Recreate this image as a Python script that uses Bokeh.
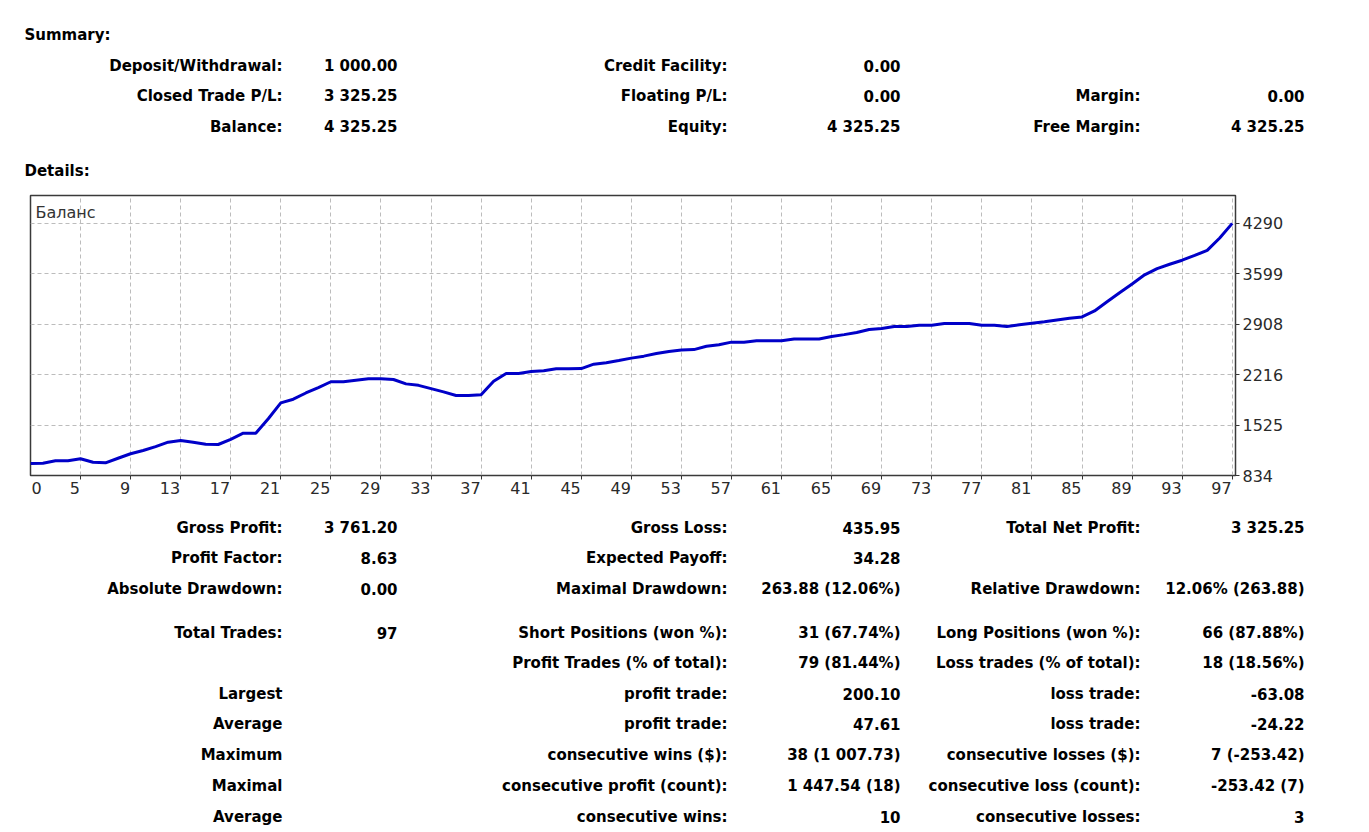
from bokeh.plotting import figure
from bokeh.models import Range1d, FixedTicker, LinearAxis, Label
from bokeh.layouts import column
from bokeh.embed import file_html
from bokeh.resources import INLINE
from bokeh.core.properties import value

# ---------------- data ----------------
trade_no = list(range(1, 98))
balance = [
    1000, 1003, 1035, 1035, 1063, 1015, 1008, 1070, 1132, 1177,
    1230, 1291, 1314, 1290, 1262, 1259, 1330, 1414, 1414, 1612,
    1830, 1880, 1965, 2040, 2119, 2119, 2140, 2160, 2160, 2150,
    2090, 2070, 2025, 1980, 1931, 1931, 1940, 2127, 2233, 2233,
    2260, 2270, 2297, 2297, 2300, 2360, 2380, 2410, 2443, 2470,
    2505, 2535, 2553, 2560, 2605, 2625, 2662, 2662, 2681, 2681,
    2681, 2704, 2704, 2704, 2740, 2765, 2795, 2835, 2850, 2877,
    2877, 2895, 2895, 2918, 2918, 2918, 2895, 2895, 2877, 2900,
    2920, 2940, 2965, 2990, 3008, 3090, 3215, 3340, 3460, 3585,
    3670, 3730, 3785, 3850, 3920, 4090, 4290,
]
x_tick_values = [5, 9, 13, 17, 21, 25, 29, 33, 37, 41, 45, 49, 53, 57, 61,
                 65, 69, 73, 77, 81, 85, 89, 93, 97]
x_first_label = "0"
y_tick_values = [834, 1525.2, 2216.4, 2907.6, 3598.8, 4290]
y_tick_labels = ["834", "1525", "2216", "2908", "3599", "4290"]
chart_title = "Баланс"

summary_header = "Summary:"
details_header = "Details:"
summary_col1_labels = ["Deposit/Withdrawal:", "Closed Trade P/L:", "Balance:"]
summary_col1_values = ["1 000.00", "3 325.25", "4 325.25"]
summary_col2_labels = ["Credit Facility:", "Floating P/L:", "Equity:"]
summary_col2_values = ["0.00", "0.00", "4 325.25"]
summary_col3_labels = ["", "Margin:", "Free Margin:"]
summary_col3_values = ["", "0.00", "4 325.25"]

details_col1_labels = ["Gross Profit:", "Profit Factor:", "Absolute Drawdown:", "Total Trades:", "",
                       "Largest", "Average", "Maximum", "Maximal", "Average"]
details_col1_values = ["3 761.20", "8.63", "0.00", "97", "", "", "", "", "", ""]
details_col2_labels = ["Gross Loss:", "Expected Payoff:", "Maximal Drawdown:", "Short Positions (won %):",
                       "Profit Trades (% of total):", "profit trade:", "profit trade:",
                       "consecutive wins ($):", "consecutive profit (count):", "consecutive wins:"]
details_col2_values = ["435.95", "34.28", "263.88 (12.06%)", "31 (67.74%)", "79 (81.44%)", "200.10",
                       "47.61", "38 (1 007.73)", "1 447.54 (18)", "10"]
details_col3_labels = ["Total Net Profit:", "", "Relative Drawdown:", "Long Positions (won %):",
                       "Loss trades (% of total):", "loss trade:", "loss trade:",
                       "consecutive losses ($):", "consecutive loss (count):", "consecutive losses:"]
details_col3_values = ["3 325.25", "", "12.06% (263.88)", "66 (87.88%)", "18 (18.56%)", "-63.08",
                       "-24.22", "7 (-253.42)", "-253.42 (7)", "3"]

# ---------------- layout constants ----------------
W = 1369
TOP_H = 185
CHART_H = 320
BOT_H = 832 - TOP_H - CHART_H
FONT = "DejaVu Sans"
TXT_COLOR = "#000000"


def text_fig(h):
    f = figure(width=W, height=h, x_range=Range1d(0, W), y_range=Range1d(h, 0),
               output_backend="svg", toolbar_location=None,
               x_axis_location=None, y_axis_location=None,
               min_border=0, min_border_left=0, min_border_right=0,
               min_border_top=0, min_border_bottom=0, frame_align=False)
    f.xgrid.visible = False
    f.ygrid.visible = False
    f.outline_line_color = None
    f.background_fill_color = "white"
    f.border_fill_color = "white"
    return f


def add_texts(f, x, ys, texts, align):
    xs, yy, tt = [], [], []
    for y, t in zip(ys, texts):
        if t:
            xs.append(x)
            yy.append(y)
            tt.append(t)
    f.text(x=xs, y=yy, text=tt, text_align=align, text_baseline="middle",
           text_font=value(FONT), text_font_style="bold", text_font_size="15px",
           text_color=TXT_COLOR)


# ---------------- top text ----------------
top = text_fig(TOP_H)
add_texts(top, 24, [34], [summary_header], "left")
add_texts(top, 24, [170], [details_header], "left")
srow = [65, 95, 126]
add_texts(top, 282, srow, summary_col1_labels, "right")
add_texts(top, 397, srow, summary_col1_values, "right")
add_texts(top, 727, srow, summary_col2_labels, "right")
add_texts(top, 900, srow, summary_col2_values, "right")
add_texts(top, 1140, srow, summary_col3_labels, "right")
add_texts(top, 1304, srow, summary_col3_values, "right")

# ---------------- chart ----------------
X0, X1 = 1.006, 97.26
Y0, Y1 = 834, 4672
BL, BR, BT, BB = 30, 134, 10, 30
frame_w = W - BL - BR
ppu = frame_w / (X1 - X0)

chart = figure(width=W, height=CHART_H, x_range=Range1d(X0, X1), y_range=Range1d(Y0, Y1),
               output_backend="svg", toolbar_location=None,
               x_axis_location=None, y_axis_location=None,
               min_border_left=BL, min_border_right=BR, min_border_top=BT, min_border_bottom=BB,
               frame_align=False)
chart.background_fill_color = "white"
chart.border_fill_color = "white"
chart.outline_line_color = "#3a3a3a"
chart.outline_line_width = 1.5

chart.xgrid.ticker = FixedTicker(ticks=x_tick_values)
chart.ygrid.ticker = FixedTicker(ticks=y_tick_values)
for g in (chart.xgrid, chart.ygrid):
    g.grid_line_color = "#bcbcbc"
    g.grid_line_dash = "4 3"
    g.grid_line_width = 1

chart.line(trade_no, balance, line_color="#0000C8", line_width=3)

# y axis on the right
yaxis = LinearAxis(ticker=FixedTicker(ticks=y_tick_values),
                   major_label_overrides={v: s for v, s in zip(y_tick_values, y_tick_labels)},
                   major_tick_out=4, major_tick_in=0, minor_tick_out=0, minor_tick_in=0,
                   axis_line_color=None, major_tick_line_color="#333333",
                   major_label_standoff=3,
                   major_label_text_font=FONT, major_label_text_font_size="16px",
                   major_label_text_color="#2a2a2a")
chart.add_layout(yaxis, "right")

# x axis: tick marks only
xticks_axis = LinearAxis(ticker=FixedTicker(ticks=x_tick_values),
                         major_label_overrides={v: "" for v in x_tick_values},
                         major_tick_out=4, major_tick_in=0, minor_tick_out=0, minor_tick_in=0,
                         axis_line_color=None, major_tick_line_color="#333333",
                         major_label_standoff=0, major_label_text_font_size="0px")
chart.add_layout(xticks_axis, "below")

# x axis: labels placed to the left of each tick (as in the original)
DIGIT_W = 10.2
label_pos = [round(X0 + (len(x_first_label) * DIGIT_W / 2 + 1) / ppu, 4)]
label_txt = [x_first_label]
for t in x_tick_values:
    s = str(t)
    label_pos.append(round(t - (len(s) * DIGIT_W / 2 + 0.5) / ppu, 4))
    label_txt.append(s)
xlabels_axis = LinearAxis(ticker=FixedTicker(ticks=label_pos),
                          major_label_overrides={p: s for p, s in zip(label_pos, label_txt)},
                          major_tick_out=0, major_tick_in=0, minor_tick_out=0, minor_tick_in=0,
                          axis_line_color=None, major_label_standoff=2,
                          major_label_text_font=FONT, major_label_text_font_size="16px",
                          major_label_text_color="#2a2a2a")
chart.add_layout(xlabels_axis, "below")

chart.add_layout(Label(x=X0, y=Y1, x_offset=5, y_offset=-17, text=chart_title,
                       text_font=FONT, text_font_size="16px", text_baseline="middle",
                       text_color="#333333"))

# ---------------- bottom text ----------------
bot = text_fig(BOT_H)
drow = [y - (TOP_H + CHART_H) for y in [527, 557, 588, 632, 662, 693, 723, 754, 785, 816]]
add_texts(bot, 282, drow, details_col1_labels, "right")
add_texts(bot, 397, drow, details_col1_values, "right")
add_texts(bot, 727, drow, details_col2_labels, "right")
add_texts(bot, 900, drow, details_col2_values, "right")
add_texts(bot, 1140, drow, details_col3_labels, "right")
add_texts(bot, 1304, drow, details_col3_values, "right")

page = column(top, chart, bot, spacing=0)
open("out.html", "w").write(file_html(page, INLINE))
